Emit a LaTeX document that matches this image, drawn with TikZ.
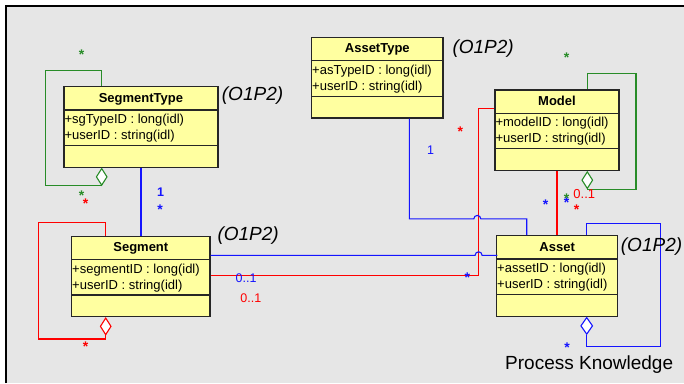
\documentclass[tikz,border=0pt]{standalone}
\usepackage{fontspec}
\setmainfont{Liberation Sans}
\usetikzlibrary{calc,shapes.geometric}
\definecolor{bggrey}{RGB}{230,230,230}
\definecolor{boxyellow}{RGB}{255,255,160}
\definecolor{ublue}{RGB}{20,20,255}
\definecolor{ured}{RGB}{255,0,0}
\definecolor{ugreen}{RGB}{40,140,40}
\newcommand\umlclass[7]{%
  \node[classbox,minimum width=#4pt,anchor=north west] (#1) at (#2,#3) {};
  \draw[divline] ($(#1.north west)+(0,24)$) -- ($(#1.north east)+(0,24)$);
  \draw[divline] ($(#1.north west)+(0,59.5)$) -- ($(#1.north east)+(0,59.5)$);
  \node[cname] (#1-name) at ($(#1.north)+(0,16)$) {#5};
  \node[attr] (#1-a1) at ($(#1.north west)+(1,37.5)$) {#6};
  \node[attr] (#1-a2) at ($(#1.north west)+(1,53.5)$) {#7};
}
\begin{document}
\begin{tikzpicture}[x=1pt,y=-1pt,
  classbox/.style={draw=black!85,line width=1.3pt,fill=boxyellow,inner sep=0,minimum height=80.5pt},
  divline/.style={line width=1.3pt,black!85},
  cname/.style={font=\fontsize{13}{15}\selectfont\bfseries,anchor=base,inner sep=0},
  attr/.style={font=\fontsize{13}{16}\selectfont,anchor=base west,inner sep=0},
  ptag/.style={font=\fontsize{19}{22}\selectfont\itshape,anchor=base west,inner sep=0},
  mult/.style={font=\fontsize{12.5}{14}\selectfont,anchor=base west,inner sep=0},
  mstar/.style={font=\fontsize{14}{16}\selectfont\bfseries,anchor=base,inner sep=0},
  conn/.style={line width=1.1pt},
  agg/.style={diamond,draw,fill=white,line width=1.1pt,minimum width=11pt,minimum height=17pt,inner sep=0,anchor=north},
]
\useasboundingbox (0,0) rectangle (684,383);
\fill[white] (0,0) rectangle (684,383);
\fill[bggrey] (6,6) rectangle (684,383);
\draw[line width=2pt] (6,383) -- (6,6) -- (684,6);

% classes
\umlclass{segtype}{63.3}{86}{154}{SegmentType}{+sgTypeID : long(idl)}{+userID : string(idl)}
\umlclass{seg}{71}{235.5}{138.3}{Segment}{+segmentID : long(idl)}{+userID : string(idl)}
\umlclass{assettype}{311}{36.7}{131.3}{AssetType}{+asTypeID : long(idl)}{+userID : string(idl)}
\umlclass{model}{494.3}{89.3}{124}{Model}{+modelID : long(idl)}{+userID : string(idl)}
\umlclass{asset}{496}{235}{121}{Asset}{+assetID : long(idl)}{+userID : string(idl)}

% aggregation diamonds
\node[agg,draw=ugreen] (sgd) at ([xshift=38.4pt]segtype.south west) {};
\node[agg,draw=ured] (segd) at ([xshift=34.7pt]seg.south west) {};
\node[agg,draw=ugreen] (modd) at ([xshift=93pt]model.south west) {};
\node[agg,draw=ublue,minimum width=12pt] (assd) at ([xshift=90.7pt]asset.south west) {};

% connectors
\draw[conn,ublue] (segtype.south) -- (segtype.south |- seg.north);
\draw[conn,ugreen] (sgd.south) -- ++(-56.4,0) -- ++(0,-115.4) -| ([xshift=38.4pt]segtype.north west);
\draw[conn,ured] (segd.south) -- ++(0,3.6) -- ++(-67,0) -- ++(0,-116.6) -| ([xshift=34.7pt]seg.north west);
\draw[conn,ured] ($(seg.north east)+(0,39.8)$) -- ++(268,0) |- ($(model.north west)+(0,19)$);
\draw[conn,ublue] ([xshift=98.3pt]assettype.south west) -- ++(0,100.4) -- ++(64.5,0)
  arc[start angle=180,end angle=0,radius=3.5pt] -| ([xshift=30.7pt]asset.north west);
\draw[conn,ublue] ($(seg.north east)+(0,19.8)$) -- ++(264.5,0)
  arc[start angle=180,end angle=0,radius=3.5pt] -- ++(15.2,0);
\draw[conn,ured] (model.south) -- (model.south |- asset.north);
\draw[conn,ugreen] (modd.south) -- ++(48.7,0) -- ++(0,-115.7) -| ([xshift=93pt]model.north west);
\draw[conn,ublue] (assd.south) -- ++(0,11.3) -- ++(73.6,0) -- ++(0,-123) -| ([xshift=90.7pt]asset.north west);

% package tags
\node[ptag] (t1) at (221.7,100.7) {(O1P2)};
\node[ptag] (t2) at (217.3,240.7) {(O1P2)};
\node[ptag] (t3) at (452.3,53.7) {(O1P2)};
\node[ptag] (t4) at (620.7,251) {(O1P2)};
\node[font=\fontsize{19}{22}\selectfont,anchor=base west,inner sep=0] (pk) at (505,369.5) {Process Knowledge};

% multiplicities
\node[mult,anchor=base,text=ublue,font=\fontsize{12.5}{14}\selectfont\bfseries] (m1) at (160.7,196.7) {1};
\node[mult,anchor=base,text=ublue] (m2) at (430.7,154.3) {1};
\node[mult,text=ublue] (m3) at (235.5,282.3) {0..1};
\node[mult,text=ured] (m4) at (240.2,302.7) {0..1};
\node[mult,text=ured,font=\fontsize{13}{15}\selectfont] (m5) at (573.2,198.3) {0..1};

% stars
\node[mstar,text=ugreen] (s1) at (81.7,59) {*};
\node[mstar,text=ugreen] (s2) at (81.7,200.7) {*};
\node[mstar,text=ured] (s3) at (85.7,208) {*};
\node[mstar,text=ublue] (s4) at (160,214) {*};
\node[mstar,text=ured] (s5) at (85.7,351.3) {*};
\node[mstar,text=ublue] (s6) at (467.3,282.3) {*};
\node[mstar,text=ured] (s7) at (460.3,136.3) {*};
\node[mstar,text=ugreen] (s8) at (566.7,62.3) {*};
\node[mstar,text=ublue] (s9) at (545.7,209.7) {*};
\node[mstar,text=ugreen] (s10) at (566.7,203.5) {*};
\node[mstar,text=ublue] (s11) at (566.7,207.8) {*};
\node[mstar,text=ured] (s12) at (576.7,214) {*};
\node[mstar,text=ublue] (s13) at (567,352) {*};
\end{tikzpicture}
\end{document}
